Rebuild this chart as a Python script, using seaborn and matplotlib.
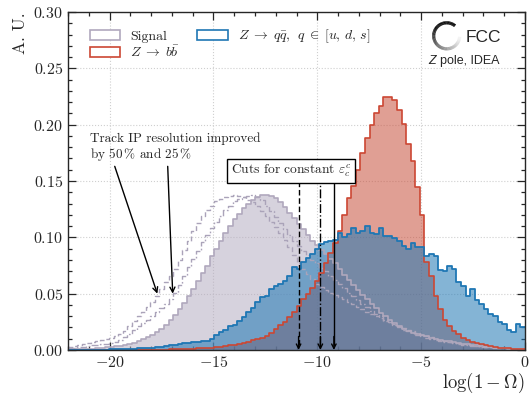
import numpy as np
import pandas as pd
import seaborn as sns
import matplotlib
matplotlib.use("Agg")
import matplotlib.pyplot as plt
from matplotlib.patches import Patch, Arc
from matplotlib.ticker import MultipleLocator

# ---------------------------------------------------------------------------
# Histogram contents (100 bins between -22 and 0, A.U.)
# ---------------------------------------------------------------------------
x_range = (-22.0, 0.0)
n_bins = 100

signal = [
    0.0003, 0.0005, 0.0006, 0.0008, 0.0011, 0.0013, 0.0016, 0.0019, 0.0023, 0.0027,
    0.0032, 0.0039, 0.0046, 0.0055, 0.0066, 0.0079, 0.0094, 0.0113, 0.0135, 0.016,
    0.019, 0.0225, 0.0265, 0.031, 0.036, 0.0415, 0.0475, 0.054, 0.061, 0.068,
    0.075, 0.083, 0.090, 0.097, 0.104, 0.110, 0.116, 0.121, 0.126, 0.130,
    0.133, 0.136, 0.1375, 0.138, 0.137, 0.135, 0.131, 0.127, 0.122, 0.117,
    0.112, 0.107, 0.102, 0.097, 0.093, 0.089, 0.085, 0.081, 0.077, 0.072,
    0.067, 0.062, 0.058, 0.053, 0.049, 0.045, 0.041, 0.037, 0.033, 0.030,
    0.027, 0.024, 0.0215, 0.019, 0.017, 0.015, 0.014, 0.013, 0.012, 0.011,
    0.010, 0.009, 0.0083, 0.0076, 0.007, 0.0062, 0.0056, 0.005, 0.0045, 0.004,
    0.0035, 0.003, 0.0026, 0.0022, 0.0019, 0.0016, 0.0013, 0.0011, 0.0009, 0.0007,
]

# signal with track IP resolution improved by 50 %
signal_ip50 = [
    0.003, 0.0035, 0.004, 0.005, 0.006, 0.007, 0.008, 0.009, 0.0095, 0.0105,
    0.012, 0.014, 0.017, 0.021, 0.026, 0.030, 0.034, 0.038, 0.043, 0.048,
    0.054, 0.060, 0.066, 0.072, 0.080, 0.089, 0.097, 0.106, 0.113, 0.119,
    0.124, 0.128, 0.132, 0.134, 0.136, 0.137, 0.1375, 0.137, 0.1355, 0.1335,
    0.131, 0.1275, 0.1235, 0.119, 0.114, 0.109, 0.1035, 0.098, 0.091, 0.084,
    0.077, 0.072, 0.0675, 0.063, 0.059, 0.056, 0.053, 0.051, 0.049, 0.047,
    0.045, 0.043, 0.041, 0.038, 0.036, 0.034, 0.032, 0.030, 0.028, 0.026,
    0.0245, 0.023, 0.0215, 0.0195, 0.018, 0.0165, 0.015, 0.0135, 0.0125, 0.0112,
    0.010, 0.009, 0.008, 0.0072, 0.0065, 0.0058, 0.0052, 0.0046, 0.0041, 0.0036,
    0.0032, 0.0028, 0.0024, 0.0021, 0.0018, 0.0015, 0.0013, 0.0011, 0.0009, 0.0007,
]

# signal with track IP resolution improved by 25 %
signal_ip25 = [
    0.0015, 0.002, 0.0025, 0.003, 0.0035, 0.004, 0.0045, 0.005, 0.0055, 0.0065,
    0.0075, 0.009, 0.0115, 0.014, 0.018, 0.021, 0.024, 0.027, 0.030, 0.034,
    0.037, 0.041, 0.045, 0.051, 0.058, 0.066, 0.074, 0.081, 0.088, 0.096,
    0.102, 0.108, 0.114, 0.119, 0.124, 0.128, 0.132, 0.134, 0.136, 0.137,
    0.1375, 0.136, 0.133, 0.128, 0.123, 0.118, 0.113, 0.107, 0.102, 0.097,
    0.092, 0.088, 0.084, 0.080, 0.077, 0.073, 0.070, 0.066, 0.062, 0.059,
    0.055, 0.051, 0.048, 0.044, 0.041, 0.038, 0.035, 0.032, 0.030, 0.027,
    0.025, 0.022, 0.020, 0.018, 0.0165, 0.015, 0.0135, 0.012, 0.011, 0.010,
    0.009, 0.0082, 0.0074, 0.0067, 0.006, 0.0054, 0.0048, 0.0043, 0.0038, 0.0034,
    0.003, 0.0026, 0.0023, 0.002, 0.0017, 0.0014, 0.0012, 0.001, 0.0008, 0.0006,
]

z_bb = [
    0, 0, 0, 0, 0, 0, 0, 0, 0, 0,
    0, 0, 0, 0, 0, 0.0001, 0.0001, 0.0002, 0.0002, 0.0003,
    0.0003, 0.0004, 0.0005, 0.0006, 0.0007, 0.0009, 0.001, 0.0012, 0.0014, 0.0016,
    0.0019, 0.0022, 0.0026, 0.003, 0.0035, 0.004, 0.0046, 0.0053, 0.006, 0.0068,
    0.0085, 0.0095, 0.011, 0.0128, 0.0155, 0.019, 0.022, 0.025, 0.029, 0.034,
    0.039, 0.045, 0.050, 0.055, 0.061, 0.068, 0.077, 0.086, 0.095, 0.106,
    0.120, 0.1346, 0.146, 0.160, 0.1745, 0.188, 0.200, 0.210, 0.217, 0.2248,
    0.2248, 0.222, 0.213, 0.201, 0.183, 0.168, 0.145, 0.120, 0.078, 0.066,
    0.048, 0.036, 0.027, 0.021, 0.017, 0.014, 0.011, 0.009, 0.0075, 0.006,
    0.005, 0.004, 0.0033, 0.0027, 0.0022, 0.0018, 0.0014, 0.0011, 0.0009, 0.0007,
]

z_qq = [
    0, 0, 0, 0, 0, 0.0002, 0.0002, 0.0003, 0.0004, 0.0005,
    0.0006, 0.0007, 0.0009, 0.001, 0.0012, 0.0014, 0.0016, 0.0019, 0.0022, 0.0026,
    0.003, 0.0035, 0.004, 0.0046, 0.0052, 0.0065, 0.0058, 0.0075, 0.0068, 0.0082,
    0.0078, 0.0095, 0.013, 0.016, 0.0175, 0.021, 0.0225, 0.026, 0.029, 0.034,
    0.037, 0.043, 0.047, 0.048, 0.054, 0.057, 0.059, 0.061, 0.066, 0.074,
    0.072, 0.078, 0.082, 0.085, 0.090, 0.094, 0.096, 0.097, 0.098, 0.104,
    0.100, 0.103, 0.108, 0.104, 0.106, 0.110, 0.104, 0.103, 0.108, 0.101,
    0.101, 0.099, 0.097, 0.092, 0.090, 0.095, 0.091, 0.091, 0.083, 0.085,
    0.083, 0.071, 0.070, 0.075, 0.072, 0.060, 0.057, 0.048, 0.054, 0.044,
    0.041, 0.036, 0.032, 0.030, 0.025, 0.023, 0.018, 0.016, 0.023, 0.020,
]

# working points giving the same charm efficiency
cut_values = [-10.9, -9.85, -9.2]
cut_styles = [(0, (4, 2)), "-.", "-"]

labels = ["Signal",
          r"$Z\;\rightarrow\; b\bar{b}$",
          r"$Z\;\rightarrow\; q\bar{q},\;\, q\;\in\;[u,\, d,\, s]$"]

# ---------------------------------------------------------------------------
sig_fill, sig_edge = "#b5adc1", "#b0a8bd"
ip_col = "#aaa3b9"
bb_fill, bb_edge = "#c8503c", "#cc4733"
qq_fill, qq_edge = "#1f77b4", "#1f77b4"

sns.set_style("ticks")
plt.rcParams.update({
    "font.family": "serif",
    "font.serif": ["cmr10"],
    "mathtext.fontset": "cm",
    "axes.formatter.use_mathtext": True,
    "axes.unicode_minus": True,
    "axes.linewidth": 1.0,
})

edges = np.linspace(x_range[0], x_range[1], n_bins + 1)
centers = 0.5 * (edges[:-1] + edges[1:])
df = pd.DataFrame({"x": centers, "signal": signal, "ip50": signal_ip50,
                   "ip25": signal_ip25, "bb": z_bb, "qq": z_qq})

fig = plt.figure(figsize=(5.29, 3.97), dpi=100)
ax = fig.add_axes([68 / 529, 47 / 397, 457 / 529, 338 / 397])

hist_kw = dict(data=df, x="x", bins=n_bins, binrange=x_range, element="step", ax=ax)

# filled areas
for col, c in [("signal", sig_fill), ("bb", bb_fill), ("qq", qq_fill)]:
    sns.histplot(weights=col, fill=True, color=c, alpha=0.55, linewidth=0, **hist_kw)

# outlines
for col, c, ls, lw in [("ip50", ip_col, (0, (3.5, 2)), 1.0),
                       ("ip25", ip_col, (0, (5, 1.6, 1.2, 1.6)), 1.0),
                       ("signal", sig_edge, "-", 1.2),
                       ("bb", bb_edge, "-", 1.2),
                       ("qq", qq_edge, "-", 1.3)]:
    sns.histplot(weights=col, fill=False, color=c, linestyle=ls, linewidth=lw, **hist_kw)

ax.set_xlim(*x_range)
ax.set_ylim(0, 0.30)
ax.xaxis.set_major_locator(MultipleLocator(5))
ax.xaxis.set_minor_locator(MultipleLocator(1))
ax.yaxis.set_major_locator(MultipleLocator(0.05))
ax.yaxis.set_minor_locator(MultipleLocator(0.01))
ax.tick_params(which="both", direction="in", top=True, right=True,
               labelsize=11.5, width=0.9)
ax.tick_params(which="major", length=6)
ax.tick_params(which="minor", length=3)
ax.grid(True, which="major", linestyle=":", color="#cfcfcf", linewidth=0.8)
ax.set_axisbelow(True)

ax.set_xlabel(r"$\log(1-\Omega)$", loc="right", fontsize=13.5, labelpad=1)
ax.set_ylabel("A. U.", loc="top", fontsize=12.5, labelpad=4)

# legend with outlined boxes
handles = [Patch(facecolor="white", edgecolor=sig_edge, lw=1.2, label=labels[0]),
           Patch(facecolor="white", edgecolor=bb_edge, lw=1.2, label=labels[1]),
           Patch(facecolor="white", edgecolor=qq_edge, lw=1.2, label=labels[2])]
ax.legend(handles=handles, ncols=2, loc="upper left", bbox_to_anchor=(0.02, 0.99),
          frameon=False, fontsize=10, handlelength=2.2, handleheight=0.75,
          columnspacing=1.3, labelspacing=0.15, handletextpad=0.7)

# annotation for the improved-resolution curves
ax.text(-20.95, 0.193, "Track IP resolution improved\nby 50$\\,\\%$ and 25$\\,\\%$",
        fontsize=9.5, ha="left", va="top", linespacing=1.05)
arrow_kw = dict(arrowstyle="->", color="black", lw=1.0, shrinkA=0, shrinkB=0,
                mutation_scale=9)
ax.annotate("", xy=(-17.7, 0.05), xytext=(-19.75, 0.163), arrowprops=arrow_kw)
ax.annotate("", xy=(-16.96, 0.05), xytext=(-17.2, 0.163), arrowprops=arrow_kw)

# cut markers
ax.text(-11.27, 0.1588, r"Cuts for constant $\varepsilon_c^c$", fontsize=9.7,
        ha="center", va="center", zorder=6,
        bbox=dict(boxstyle="square,pad=0.25", fc="white", ec="black", lw=1.0))
for xc, ls in zip(cut_values, cut_styles):
    ax.plot([xc, xc], [0.004, 0.149], color="black", linestyle=ls, lw=1.0, zorder=5)
    ax.annotate("", xy=(xc, 0.0), xytext=(xc, 0.012), zorder=5,
                arrowprops=dict(arrowstyle="->", color="black", lw=1.0,
                                shrinkA=0, shrinkB=0, mutation_scale=8))

# FCC logo: open ring, black on the upper left fading to white towards the right
cx, cy, r = 4.467, 3.97 - 0.358, 0.13
start, stop, nseg = 50.0, 355.0, 90
step = (stop - start) / nseg
for k in range(nseg):
    a = start + k * step
    g = 0.0 if a < 140 else min(0.95, (a - 140) / (stop - 140))
    fig.add_artist(Arc((cx, cy), 2 * r, 2 * r, theta1=a, theta2=a + step + 0.6,
                       transform=fig.dpi_scale_trans, color=str(g), lw=2.3))
fig.text(466 / 529, (397 - 42) / 397, "FCC", fontsize=12.5,
         family="Liberation Sans", ha="left", va="baseline")
fig.text(428 / 529, (397 - 64) / 397, "Z", fontsize=9, style="italic",
         family="Liberation Sans", ha="left", va="baseline")
fig.text(440 / 529, (397 - 64) / 397, "pole, IDEA", fontsize=9,
         family="Liberation Sans", ha="left", va="baseline")

fig.savefig("out.png", dpi=100)
